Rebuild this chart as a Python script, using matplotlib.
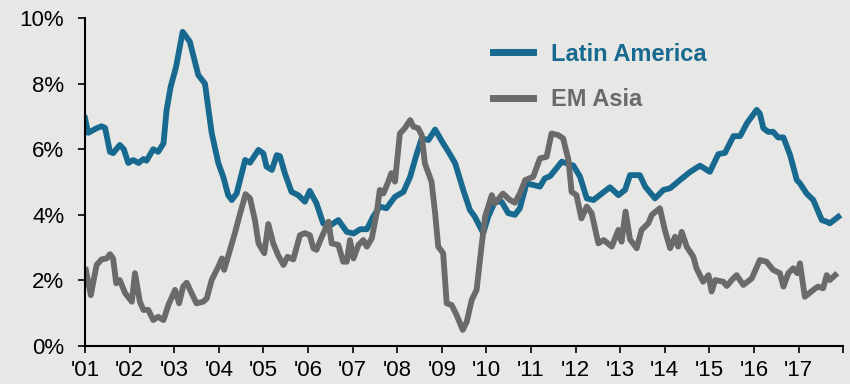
import numpy as np
import matplotlib.pyplot as plt
from matplotlib.ticker import FuncFormatter

la_t = [2001.00, 2001.07, 2001.26, 2001.37, 2001.45, 2001.56, 2001.63, 2001.78, 2001.87, 2001.97,
        2002.08, 2002.20, 2002.31, 2002.38, 2002.53, 2002.64, 2002.76, 2002.83, 2002.92, 2003.04,
        2003.19, 2003.35, 2003.54, 2003.69, 2003.84, 2003.99, 2004.10, 2004.21, 2004.29, 2004.40,
        2004.59, 2004.70, 2004.89, 2005.00, 2005.07, 2005.19, 2005.30, 2005.37, 2005.48, 2005.63,
        2005.78, 2005.93, 2006.04, 2006.19, 2006.34, 2006.46, 2006.68, 2006.87, 2007.02, 2007.17,
        2007.32, 2007.46, 2007.61, 2007.76, 2007.95, 2008.14, 2008.29, 2008.44, 2008.55, 2008.70,
        2008.85, 2009.03, 2009.15, 2009.30, 2009.48, 2009.63, 2009.74, 2009.93, 2010.04, 2010.19,
        2010.34, 2010.49, 2010.64, 2010.75, 2010.90, 2011.05, 2011.20, 2011.31, 2011.43, 2011.69,
        2011.80, 2011.95, 2012.10, 2012.25, 2012.40, 2012.59, 2012.77, 2012.96, 2013.11, 2013.22,
        2013.44, 2013.56, 2013.78, 2013.97, 2014.12, 2014.34, 2014.57, 2014.79, 2015.01, 2015.20,
        2015.35, 2015.54, 2015.69, 2015.84, 2016.06, 2016.13, 2016.21, 2016.32, 2016.43, 2016.54,
        2016.66, 2016.81, 2016.96, 2017.03, 2017.18, 2017.33, 2017.52, 2017.63, 2017.70, 2017.89]
la_v = [6.95, 6.50, 6.64, 6.70, 6.65, 5.92, 5.88, 6.13, 6.00, 5.58,
        5.67, 5.58, 5.70, 5.65, 6.00, 5.92, 6.18, 7.20, 7.90, 8.50,
        9.58, 9.28, 8.26, 8.00, 6.50, 5.57, 5.16, 4.60, 4.45, 4.65,
        5.67, 5.59, 5.98, 5.87, 5.47, 5.37, 5.82, 5.79, 5.27, 4.70,
        4.60, 4.40, 4.73, 4.35, 3.74, 3.64, 3.84, 3.48, 3.43, 3.56,
        3.56, 3.94, 4.25, 4.20, 4.55, 4.70, 5.16, 5.87, 6.33, 6.28,
        6.60, 6.18, 5.92, 5.57, 4.76, 4.15, 3.94, 3.44, 3.94, 4.40,
        4.40, 4.05, 4.00, 4.20, 4.96, 4.91, 4.86, 5.11, 5.18, 5.62,
        5.57, 5.50, 5.16, 4.50, 4.45, 4.65, 4.84, 4.60, 4.76, 5.21,
        5.21, 4.86, 4.50, 4.76, 4.81, 5.06, 5.31, 5.50, 5.31, 5.85,
        5.89, 6.40, 6.40, 6.79, 7.20, 7.09, 6.64, 6.53, 6.53, 6.36,
        6.36, 5.82, 5.06, 4.96, 4.65, 4.45, 3.84, 3.79, 3.74, 3.94]

asia_t = [2001.02, 2001.13, 2001.26, 2001.37, 2001.49, 2001.56, 2001.63, 2001.70, 2001.78, 2001.90,
          2002.05, 2002.12, 2002.23, 2002.31, 2002.42, 2002.53, 2002.64, 2002.76, 2002.87, 2003.02,
          2003.11, 2003.20, 2003.28, 2003.39, 2003.50, 2003.65, 2003.73, 2003.84, 2003.99, 2004.07,
          2004.12, 2004.25, 2004.36, 2004.48, 2004.60, 2004.70, 2004.81, 2004.89, 2005.02, 2005.11,
          2005.22, 2005.33, 2005.45, 2005.54, 2005.67, 2005.82, 2005.93, 2006.04, 2006.12, 2006.19,
          2006.31, 2006.46, 2006.53, 2006.68, 2006.79, 2006.87, 2006.94, 2007.02, 2007.13, 2007.24,
          2007.32, 2007.43, 2007.54, 2007.61, 2007.69, 2007.80, 2007.87, 2007.95, 2008.06, 2008.17,
          2008.29, 2008.36, 2008.47, 2008.55, 2008.62, 2008.77, 2008.85, 2008.92, 2009.03, 2009.11,
          2009.22, 2009.33, 2009.47, 2009.56, 2009.67, 2009.78, 2009.89, 2009.97, 2010.12, 2010.19,
          2010.37, 2010.53, 2010.64, 2010.75, 2010.87, 2011.05, 2011.20, 2011.35, 2011.46, 2011.61,
          2011.72, 2011.84, 2011.91, 2012.02, 2012.13, 2012.25, 2012.36, 2012.51, 2012.63, 2012.81,
          2012.96, 2013.03, 2013.12, 2013.22, 2013.37, 2013.48, 2013.63, 2013.71, 2013.89, 2014.00,
          2014.12, 2014.23, 2014.30, 2014.38, 2014.49, 2014.64, 2014.71, 2014.86, 2014.98, 2015.05,
          2015.13, 2015.31, 2015.39, 2015.50, 2015.61, 2015.76, 2015.95, 2016.13, 2016.28, 2016.43,
          2016.58, 2016.66, 2016.77, 2016.88, 2016.97, 2017.03, 2017.14, 2017.33, 2017.43, 2017.55,
          2017.63, 2017.70, 2017.82]
asia_v = [2.32, 1.55, 2.47, 2.64, 2.67, 2.80, 2.67, 1.91, 2.01, 1.61,
          1.35, 2.22, 1.35, 1.10, 1.10, 0.79, 0.89, 0.79, 1.25, 1.71,
          1.30, 1.81, 1.93, 1.61, 1.30, 1.35, 1.45, 2.01, 2.42, 2.67,
          2.32, 2.93, 3.44, 4.05, 4.63, 4.50, 3.84, 3.13, 2.83, 3.72,
          3.13, 2.77, 2.47, 2.72, 2.64, 3.38, 3.44, 3.38, 2.98, 2.93,
          3.33, 3.79, 3.13, 3.08, 2.57, 2.57, 3.23, 2.67, 3.08, 3.23,
          3.03, 3.28, 4.05, 4.76, 4.65, 5.01, 5.27, 5.01, 6.48, 6.64,
          6.89, 6.69, 6.64, 6.43, 5.57, 5.01, 4.05, 3.03, 2.83, 1.30,
          1.25, 0.95, 0.49, 0.74, 1.40, 1.71, 3.03, 3.94, 4.60, 4.35,
          4.65, 4.45, 4.37, 4.65, 5.06, 5.16, 5.72, 5.77, 6.48, 6.43,
          6.33, 5.67, 4.70, 4.60, 3.89, 4.25, 4.05, 3.13, 3.23, 3.03,
          3.54, 3.18, 4.10, 3.25, 2.98, 3.54, 3.74, 4.00, 4.20, 3.54,
          2.98, 3.33, 3.03, 3.48, 3.03, 2.72, 2.37, 1.96, 2.16, 1.66,
          2.01, 1.96, 1.83, 2.01, 2.16, 1.86, 2.06, 2.62, 2.57, 2.32,
          2.22, 1.81, 2.22, 2.37, 2.22, 2.52, 1.50, 1.71, 1.81, 1.76,
          2.16, 2.01, 2.16]

years = list(range(2001, 2019))
year_labels = ["'%02d" % (y % 100) for y in years[:-1]] + [""]

blue = "#17698f"
gray = "#6a6a6a"
bg = "#e7e7e5"

plt.rcParams['font.family'] = ['Liberation Sans', 'DejaVu Sans']

fig = plt.figure(figsize=(8.5, 3.84), dpi=100, facecolor=bg)
ax = fig.add_axes([0.1, 0.099, 0.892, 0.854], facecolor=bg)

ax.plot(la_t, la_v, color=blue, lw=4.2, solid_joinstyle='round', label="Latin America")
ax.plot(asia_t, asia_v, color=gray, lw=4.2, solid_joinstyle='round', label="EM Asia")

ax.set_xlim(2001, 2018)
ax.set_ylim(0, 10)
ax.set_yticks(np.arange(0, 11, 2))
ax.yaxis.set_major_formatter(FuncFormatter(lambda v, _: "%d%%" % v))
ax.set_xticks(years)
ax.set_xticklabels(year_labels)

for side in ['top', 'right']:
    ax.spines[side].set_visible(False)
for side in ['left', 'bottom']:
    ax.spines[side].set_linewidth(1.5)
    ax.spines[side].set_color('black')
ax.spines['left'].set_bounds(0, 10)

ax.tick_params(axis='y', length=5, width=1.2, pad=10, labelsize=16)
ax.tick_params(axis='x', length=5, width=1.2, pad=5, labelsize=16)

leg = ax.legend(loc='upper left', bbox_to_anchor=(0.538, 0.925), frameon=False,
                fontsize=17, handlelength=1.7, handletextpad=0.75,
                labelspacing=0.95, borderpad=0, borderaxespad=0)
for line, txt, c in zip(leg.get_lines(), leg.get_texts(), [blue, gray]):
    line.set_linewidth(5)
    txt.set_color(c)
    txt.set_fontweight('bold')

fig.savefig("out.png", dpi=100, facecolor=bg)
